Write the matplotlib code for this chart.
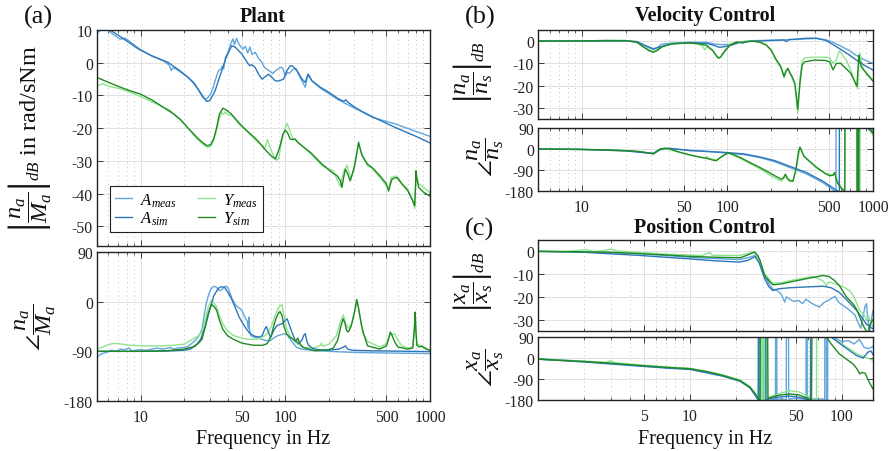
import numpy as np
import matplotlib
matplotlib.use('Agg')
import matplotlib.pyplot as plt
from matplotlib.ticker import LogLocator, NullFormatter, FixedLocator

# ---------------- data (frequency in Hz, value) ----------------
# (a) Plant magnitude in dB
plant_mag_A_meas = [(5.0, 9.0), (5.3, 10.0), (5.8, 10.5), (6.3, 9.0), (6.8, 8.0), (7.2, 7.2), (7.8, 7.5),
    (8.3, 6.7), (9.0, 5.5), (10, 4.0), (12, 2.0), (14.5, 0.5), (15.8, -0.8), (16.3, -2.4), (16.8, -1.5),
    (18, -2.2), (21, -4.3), (23, -6.0), (25, -8.2), (26.6, -10.3), (27.8, -11.1), (29, -10.8), (30.5, -9.5),
    (31.5, -8.0), (33, -5.0), (34.5, -2.5), (35.8, -1.9), (36.8, -1.0), (37.5, -1.9), (38.5, 1.5), (40, 3.0),
    (42, 5.8), (43.5, 7.3), (44.5, 5.5), (46, 7.5), (47.5, 6.0), (49, 5.0), (51, 4.2), (53, 5.0), (55, 3.0),
    (57, 4.8), (59, 2.5), (62, 3.2), (65, 1.5), (68, 0.5), (72, -1.5), (77, -2.4), (82, -3.3), (86, -2.4),
    (90, -1.8), (93, -1.4), (96, -1.6), (100, -4.0), (103, -3.0), (107, -3.2), (112, -2.2), (118, -1.7),
    (125, -4.0), (130, -5.5), (137.5, -7.5), (141, -5.0), (144, -3.5), (152, -5.5), (175, -7.8), (234, -11.4),
    (270, -12.8), (339, -15.0), (400, -16.7), (576, -18.7), (800, -21.0), (1000, -22.5)]
plant_mag_A_sim = [(5.0, 12.5), (6.0, 10.3), (7.0, 8.4), (8.0, 6.7), (9.65, 4.2), (12, 2.1), (15.5, 0.1),
    (18.5, -2.3), (21.4, -4.5), (23.5, -6.3), (25.1, -8.2), (27, -10.3), (28.6, -11.8), (30, -11.6),
    (31.5, -10.0), (32.7, -8.6), (34.5, -5.5), (36.4, -2.4), (39, 1.5), (42.6, 5.2), (45, 4.8), (48, 3.5),
    (50, 2.7), (53, 1.0), (55.5, -0.4), (57, -0.9), (58.5, -0.6), (61.8, -1.4), (66, -3.8), (69.1, -5.0),
    (76.7, -3.5), (85.3, -5.5), (90, -5.6), (95, -5.2), (97.4, -5.0), (102.7, -2.4), (108, -1.0),
    (111.2, -0.9), (115, -1.5), (120.5, -2.4), (130.5, -5.0), (137.5, -6.0), (143.6, -3.5), (153, -5.5),
    (174.7, -7.5), (200, -9.0), (234, -11.1), (255, -11.8), (262, -11.3), (270, -12.0), (300, -13.5),
    (339, -14.9), (400, -16.5), (576, -19.8), (800, -22.5), (1000, -24.5)]
plant_mag_Y_meas = [(5.0, -7.0), (5.5, -6.5), (6.0, -7.2), (7, -7.8), (8, -8.6), (9, -9.5), (10, -10.3),
    (12, -12.0), (13, -12.6), (14.5, -13.7), (16, -14.5), (17, -15.8), (19, -17.6), (21.3, -20.0),
    (24, -22.8), (27, -25.0), (29, -25.9), (30.5, -25.6), (32, -23.8), (33.5, -20.5), (35, -17.0),
    (36.5, -15.3), (37.5, -15.8), (38.5, -15.0), (40, -15.8), (43, -16.2), (48, -18.8), (55, -21.2),
    (62, -23.5), (70, -25.5), (72, -26.3), (75.5, -23.5), (78, -25.5), (82, -28.0), (87, -29.8),
    (90, -29.4), (93, -25.5), (98, -21.0), (103, -18.5), (107, -20.5), (112, -23.0), (120, -24.0),
    (130.5, -25.4), (150, -27.8), (180, -31.5), (200, -32.5), (215, -33.0), (227, -35.5), (240, -37.8),
    (252, -33.5), (267, -31.3), (276, -33.5), (284, -35.5), (300, -31.5), (321, -25.0), (339, -28.0),
    (370, -31.5), (397, -32.2), (450, -35.0), (518, -38.5), (540, -35.0), (580, -34.6), (610, -35.5),
    (641, -37.0), (700, -38.5), (751, -41.5), (784, -44.5), (800, -35.5), (812, -35.0), (835, -37.0),
    (900, -38.0), (1000, -39.7)]
plant_mag_Y_sim = [(5.0, -4.5), (6, -6.0), (7, -7.2), (8, -8.2), (10, -9.6), (12, -11.4), (14, -13.3),
    (17, -15.7), (19, -17.5), (21.3, -20.0), (23, -21.5), (25, -23.2), (27, -24.5), (29, -25.4),
    (30.5, -25.0), (32, -23.3), (33.5, -20.0), (35, -15.8), (37, -13.9), (39, -14.4), (42, -15.5),
    (45, -17.0), (50, -19.3), (55, -21.0), (60, -22.5), (65, -24.0), (72, -26.4), (80, -28.5),
    (85.3, -29.4), (88, -28.0), (92, -25.4), (96, -22.0), (100, -20.6), (104, -21.5), (108, -23.3),
    (112, -23.5), (117, -23.3), (122, -24.3), (130.5, -25.4), (150, -27.5), (179.6, -31.0), (210, -33.5),
    (227.7, -34.5), (240, -36.0), (246.3, -38.1), (252, -35.5), (260, -32.5), (270, -34.0), (281, -36.1),
    (300, -32.0), (321, -24.3), (339, -28.4), (370, -31.0), (397, -32.0), (450, -34.5), (500, -37.0),
    (518, -39.2), (535, -36.8), (546, -35.6), (570, -35.2), (591, -35.1), (641, -37.1), (700, -39.0),
    (751, -41.7), (784, -43.7), (795, -37.0), (800, -33.0), (812, -35.5), (835, -38.1), (900, -39.5),
    (1000, -40.8)]

# (a) Plant phase in deg
plant_ph_A_meas = [(5.0, -101), (5.3, -95), (5.8, -92), (6.3, -88), (6.8, -90), (7.3, -86), (7.8, -87),
    (8.3, -84), (8.8, -90), (9.3, -88), (10, -87), (11, -88), (12, -86), (13, -84), (14, -86), (15, -85),
    (16, -83), (17, -86), (18, -84), (19.5, -83), (21, -82), (22.5, -76), (24, -70), (25.5, -60),
    (26.6, -50), (27.5, -25), (28.5, -2), (29.5, 12), (30.5, 22), (32, 28), (33.5, 26), (35, 20),
    (36.5, 22), (38, 27), (39.4, 28), (41, 20), (42.5, 8), (43.6, 2), (45, -5), (47, -10), (49, -13),
    (51, -20), (53, -30), (54.5, -35), (55.5, -48), (56, -28), (56.5, -50), (58, -62), (62, -65),
    (67, -67), (72, -70), (78, -71), (83, -66), (88, -62), (93, -60), (98, -58), (103, -60), (108, -68),
    (114, -76), (120, -83), (130, -86), (150, -88), (200, -90), (300, -92), (500, -93), (1000, -94)]
plant_ph_A_sim = [(5, -90), (10, -90), (15, -89.5), (20, -88), (22, -86), (24, -80), (26, -68), (28, -45),
    (30, -15), (32, 10), (34.4, 24), (36, 27), (38, 26), (39.4, 20), (42, 8), (45, -10), (48, -28),
    (52.7, -46), (57, -58), (62, -63), (66, -64), (69, -62), (72, -50), (74, -45), (76.5, -55), (79, -65),
    (84, -50), (88, -43), (95, -40), (100, -34), (103, -31), (106, -40), (111, -55), (117, -70),
    (123.8, -76), (130, -70), (135, -60), (137.5, -58), (141, -72), (145, -79), (155, -85), (170, -87),
    (200, -88), (234, -86), (250, -83), (260, -80), (270, -86), (290, -88), (400, -89), (1000, -90.5)]
plant_ph_Y_meas = [(5, -86), (5.5, -82), (6.0, -78), (6.4, -76), (7, -76), (8.5, -79), (10, -80),
    (14, -80), (17, -79), (20, -77), (23, -68), (25, -62), (26.6, -55), (28, -32), (29.5, -8), (31, 2),
    (32.5, -4), (33.6, -10), (35, -25), (37, -40), (40, -53), (43.6, -61), (50, -66), (55, -68), (62, -68),
    (67, -67), (72, -62), (75, -58), (80, -45), (85, -25), (90, -10), (95, -5), (98, -25), (102, -48),
    (107, -60), (113, -68), (120, -76), (133, -83), (150, -84), (165, -82), (175, -79), (178, -75),
    (182, -81), (200, -77), (225, -62), (240, -37), (252, -24), (260, -38), (272, -48), (290, -38),
    (300, -20), (314, 1), (322, -15), (335, -42), (345, -58), (370, -72), (450, -82), (500, -76),
    (515, -66), (530, -62), (545, -60), (570, -58), (600, -70), (640, -80), (700, -84), (760, -82),
    (780, -45), (790, -22), (800, -55), (815, -77), (880, -80), (940, -84), (1000, -88)]
plant_ph_Y_sim = [(5, -90), (10, -90), (15, -89), (20, -86), (23, -82), (25, -76), (26.6, -68), (28, -45),
    (29.5, -19), (31, -5), (32.5, -10), (33.6, -16), (35, -33), (37, -50), (40, -62), (43.6, -68),
    (50, -75), (60, -79), (70, -79), (75, -76), (80, -62), (84, -40), (87, -28), (90, -20), (92, -18),
    (95, -25), (98, -45), (102, -58), (107, -64), (113, -68), (118, -72), (122, -66), (126, -76),
    (133, -83), (160, -89), (200, -87), (215, -84), (230, -70), (242, -45), (251, -31), (258, -38),
    (265, -52), (272, -55), (285, -45), (300, -20), (311.6, 4), (320, -10), (335, -40), (345, -55),
    (370, -80), (450, -86), (500, -80), (515, -70), (531, -55), (545, -60), (570, -73), (600, -82),
    (700, -86), (760, -84), (780, -50), (790, -19), (797, -45), (810, -79), (840, -82), (880, -81),
    (940, -86), (1000, -88)]

# (b) Velocity control magnitude in dB
vel_mag_A_meas = [(5, 0), (20, 0.2), (24, -0.2), (27.3, -2.2), (31, -3.8), (33, -3.0), (35, -1.5),
    (42, -0.8), (55, -0.5), (72, -0.6), (80, -1.2), (88, -1.5), (95, -1.6), (104, -1.4), (120, -0.5),
    (150, 0.2), (200, 0.4), (250, 0.6), (300, 0.8), (347, 1.0), (408, 1.2), (475, 0.6), (530, -0.5),
    (590, -2.0), (680, -4.0), (772, -6.5), (880, -8.5), (1000, -10.0)]
vel_mag_A_sim = [(5, 0), (20, 0.1), (24, -0.3), (27.3, -2.0), (31, -3.4), (35, -2.5), (42, -1.2),
    (55, -0.8), (72, -1.0), (80, -1.8), (88, -2.8), (95, -2.5), (104, -2.0), (120, -0.7), (150, 0.0),
    (200, 0.3), (245, 0.5), (253, -0.2), (265, 0.7), (300, 0.9), (347, 1.3), (408, 1.3), (475, 0.3),
    (530, -1.5), (590, -3.4), (680, -6.0), (772, -8.6), (880, -11.0), (1000, -13.0)]
vel_mag_Y_meas = [(5, 0), (20, 0.3), (23.8, -0.3), (27.3, -3.0), (31, -4.8), (35.3, -2.5), (42.3, -1.0),
    (55, -0.8), (62, -1.3), (67, -2.0), (70, -4.0), (72, -2.5), (76, -3.5), (80, -4.5), (84, -7.0),
    (87, -7.8), (90, -7.2), (95, -4.5), (104, -1.2), (115, -0.4), (125, -0.2), (148, 0.2), (167, -0.3),
    (185, -1.5), (200, -4.0), (215, -8.5), (233, -12.0), (245, -16.5), (252, -14.0), (260, -12.5),
    (270, -15.0), (278, -16.5), (290, -19.5), (298, -27.0), (304, -32.5), (310, -25.0), (315, -17.0),
    (326, -9.0), (340, -7.5), (398, -7.2), (470, -7.2), (505, -7.5), (531, -10.0), (560, -8.5),
    (575, -6.0), (590, -4.3), (600, -5.0), (620, -6.5), (656, -8.6), (703, -13.0), (760, -19.0),
    (785, -21.5), (798, -10.0), (812, -5.2), (830, -9.0), (860, -12.8), (1000, -17.5)]
vel_mag_Y_sim = [(5, 0.0), (10, 0.1), (15, 0.3), (20, 0.2), (23.8, -0.5), (27.3, -3.2), (29, -4.3),
    (31, -5.0), (33, -4.2), (35.3, -2.7), (38, -1.8), (42.3, -1.2), (50, -0.9), (55, -0.8), (62, -1.1),
    (67, -1.5), (72, -1.9), (79, -4.1), (84, -6.5), (87, -7.6), (90, -7.0), (95, -4.9), (104, -1.9),
    (115, -0.5), (122, -0.5), (127, -0.9), (133, -0.3), (148, 0.0), (167, -0.5), (185, -1.8),
    (200, -4.1), (215, -8.0), (233, -11.5), (245, -15.9), (252, -13.5), (260, -12.2), (270, -14.5),
    (278, -15.9), (290, -18.8), (298, -25.0), (304, -30.6), (310, -24.0), (315, -18.8), (326, -10.7),
    (340, -9.3), (398, -8.5), (470, -8.7), (505, -9.3), (531, -12.9), (560, -10.0), (600, -10.0),
    (703, -14.4), (775, -20.3), (790, -12.0), (800, -6.3), (812, -9.0), (830, -11.5), (900, -14.5),
    (1000, -18.0)]

# (b) Velocity control phase in deg
vel_ph_A_meas = [(5, 0), (10, -1), (20, -7), (25, -12), (28, -16), (31, -20), (34, -5), (37, 0), (40, 2),
    (55, -5), (70, -10), (93, -16), (130, -24), (170, -38), (212, -55), (270, -80), (347, -106),
    (450, -143), (530, -175), (557, -185), (558, 175), (800, 115), (880, 92), (1000, 82)]
vel_ph_A_sim = [(5, 0), (10, -2), (20, -8), (25, -14), (28, -17), (31, -18), (34, -3), (37, 2), (40, 3),
    (55, -7), (70, -10), (93, -14), (130, -21), (170, -35), (212, -50), (270, -75), (347, -100),
    (450, -137), (546, -172), (587, -185), (588, 175), (800, 125), (905, 90), (1000, 75)]
vel_ph_Y_meas = [(5, 0), (10, -2), (20, -8), (25, -12), (28, -16), (31, -20), (34.5, -2), (37, 2),
    (47, -14), (55, -26), (65, -36), (70, -38), (72, -32), (75, -40), (84, -48), (93, -30), (101, -17),
    (122, -40), (167, -85), (212, -125), (234, -137), (250, -118), (268, -140), (282, -140), (295, -95),
    (315, 5), (335, -30), (380, -60), (408, -76), (470, -105), (530, -112), (546, -108), (570, -135),
    (600, -160), (640, -182), (645, 178), (700, 150), (760, 120), (790, 170), (792, -190), (815, -190),
    (817, 170), (870, 110), (930, 88), (1000, 58)]
vel_ph_Y_sim = [(5, 0), (10, -2), (15, -4), (20, -7), (25, -11), (28, -16), (31, -21), (33, -10),
    (34.5, 0), (37, 3), (40, 1), (47, -14), (55, -25), (65, -35), (72, -40), (80, -48), (84, -50),
    (88, -40), (93, -29), (101, -17), (108, -22), (122, -36), (140, -55), (167, -79), (190, -98),
    (212, -115), (234, -129), (242, -125), (250, -108), (258, -125), (268, -135), (282, -137), (295, -90),
    (308, -10), (315, 8), (322, -5), (335, -30), (347, -40), (380, -62), (408, -79), (470, -105),
    (505, -115), (530, -112), (546, -101), (556, -125), (570, -145), (600, -165), (630, -178), (640, -185),
    (641, 175), (700, 140), (760, 120), (775, 178), (776, -182), (785, -190), (786, 175), (792, 178),
    (793, -182), (800, -185), (801, 178), (880, 100), (930, 90), (1000, 68)]

# (c) Position control magnitude in dB
pos_mag_A_meas = [(1, 0), (2, -0.2), (4.7, -1.0), (7, -1.8), (10, -2.6), (15, -3.2), (21, -3.6), (24, -2.8),
    (26.7, -1.8), (28.5, -3.5), (31, -10.6), (33, -14.0), (35, -16.5), (38, -17.5), (40, -19.0),
    (42, -22.3), (43, -20.0), (45, -20.8), (48, -22.0), (52, -21.6), (55, -23.0), (58, -21.0), (62, -22.5),
    (66, -23.5), (71, -24.5), (76, -22.5), (81, -21.6), (86, -20.5), (90, -19.8), (95, -22.3), (100, -23.5),
    (108, -25.0), (115, -26.5), (122, -28.0), (126, -30.5), (133, -33.8), (138, -28.0), (142, -24.0),
    (145, -23.0), (148, -30.0), (152, -36.0), (156, -30.0), (160, -26.0)]
pos_mag_A_sim = [(1, 0), (2, -0.4), (4.7, -1.8), (7, -2.6), (10, -3.3), (15, -4.2), (21, -4.7), (24, -4.0),
    (26.7, -2.3), (28.5, -5.0), (31, -12.0), (33, -15.5), (35, -17.2), (38, -16.5), (45, -16.0),
    (60, -15.6), (75, -15.3), (85, -16.0), (96, -18.0), (110, -22.0), (125, -26.0), (135, -29.0),
    (145, -32.0), (155, -33.5), (160, -34.0)]
pos_mag_Y_meas = [(1, 0), (1.5, 0), (1.9, 0.5), (2.1, 0.8), (2.3, 0), (2.7, 0.3), (3.0, 1.0), (3.3, 0.2),
    (4.7, -0.5), (7, -1.2), (10, -1.6), (12, -1.8), (13.5, -0.5), (14, -1.7), (21, -1.8), (24, -1.0),
    (26, 0.0), (28, -2.5), (31, -10.0), (35, -14.0), (40, -13.7), (50, -12.3), (58, -11.5), (64, -11.0),
    (70, -12.0), (75, -13.0), (79, -15.0), (82, -13.5), (85, -13.7), (96, -15.0), (105, -16.0),
    (113, -17.5), (120, -20.0), (131, -26.0), (140, -28.0), (145, -30.0), (150, -28.5), (155, -32.0),
    (160, -33.0)]
pos_mag_Y_sim = [(1, 0), (2, -0.2), (3, -0.4), (4.7, -1.0), (7, -1.6), (10, -2.2), (15, -2.6), (21.4, -2.8),
    (23.5, -1.8), (25.5, -0.8), (26.7, -0.3), (28, -2.0), (28.9, -4.0), (31, -10.6), (33.6, -13.5),
    (35.3, -14.7), (40, -14.3), (45.4, -13.5), (58.5, -12.0), (70, -11.0), (75, -10.6), (82, -11.0),
    (90, -13.0), (96, -15.0), (107, -20.0), (118, -23.0), (125, -25.5), (131, -29.0), (140, -33.5),
    (148, -36.0), (153, -32.0), (160, -30.0)]

# (c) Position control phase in deg
pos_ph_A_meas = [(1, -3), (2, -14), (4.7, -33), (7, -42), (10, -47), (16.5, -76), (21.4, -98), (24.8, -126),
    (27.2, -162), (28.0, -182), (28.1, 182), (28.6, 182), (28.7, -182), (29.2, -182), (29.3, 182),
    (30.5, 182), (30.6, -180), (33, -172), (35, -176), (36.5, -182), (36.6, 182), (37.2, 182),
    (37.3, -178), (40, -174), (43, -180), (43.1, 182), (44.5, 182), (44.6, -176), (50, -172), (56, -176),
    (58, -182), (58.1, 182), (59, 182), (59.1, -178), (66, -175), (70, -178), (74, -174), (77, -182),
    (77.1, 182), (79, 182), (79.1, -178), (80.5, -178), (80.6, 182), (90, 85), (100, 70), (110, 75),
    (120, 60), (130, 80), (140, 45), (150, 40), (160, 50)]
pos_ph_A_sim = [(1, -5), (2, -17), (4.7, -35), (7, -43), (10, -49), (16.5, -78), (21.4, -100), (24.8, -128),
    (27.0, -162), (28.3, -182), (28.4, 182), (31.5, 182), (31.6, -180), (33, -176), (38, -168),
    (45, -163), (52, -168), (58, -175), (62, -182), (62.2, 182), (80, 120), (85, 90), (100, 55),
    (113, 30), (125, 10), (138, 0), (148, 25), (155, 30), (160, 15)]
pos_ph_Y_meas = [(1, -5), (2, -14), (2.8, -18), (3.0, -12), (3.2, -20), (4.7, -30), (7, -38), (10, -44),
    (16.5, -72), (21.4, -95), (24.8, -122), (27.4, -158), (28.7, -182), (28.8, 182), (29.5, 182),
    (29.6, -182), (30.0, -182), (30.1, 182), (30.8, 182), (30.9, -182), (31.3, -182), (31.4, 182),
    (32.0, 182), (32.1, -175), (34, -165), (40, -150), (45, -140), (52, -145), (58, -160), (66, -180),
    (68, -185), (68.1, 185), (85, 90), (100, 60), (115, 35), (125, 18), (140, 5), (160, -10)]
pos_ph_Y_sim = [(1, -5), (2, -15), (3, -22), (4.7, -32), (7, -40), (10, -46), (13, -58), (16.5, -75),
    (21.4, -97), (24.8, -125), (27.4, -161), (28.9, -182), (29.0, 182), (32.4, 182), (32.6, -172),
    (33.6, -170), (38, -160), (45, -154), (52, -158), (58, -170), (63, -182), (63.6, 182), (75, 130),
    (79, 90), (85, 60), (96, 18), (107, -5), (118, -25), (125, -45), (131, -68), (136, -62), (142, -65),
    (150, -100), (160, -133)]

series_names = ['$A_{meas}$', '$A_{sim}$', '$Y_{meas}$', '$Y_{sim}$']
colors = {'A_meas': '#62a6dc', 'A_sim': '#2c77bb', 'Y_meas': '#8fe48f', 'Y_sim': '#1f8a22'}

# ---------------- figure ----------------
plt.rcParams['font.family'] = ['Liberation Serif', 'DejaVu Serif']
plt.rcParams['mathtext.fontset'] = 'custom'
plt.rcParams['mathtext.rm'] = 'Liberation Serif'
plt.rcParams['mathtext.it'] = 'Liberation Serif:italic'
plt.rcParams['mathtext.bf'] = 'Liberation Serif:bold'
plt.rcParams['mathtext.fallback'] = 'cm'
plt.rcParams['axes.unicode_minus'] = False

W, H = 894, 452
fig = plt.figure(figsize=(W / 100, H / 100), dpi=100)


def ax_px(x0, y0, x1, y1):
    return fig.add_axes([x0 / W, 1 - y1 / H, (x1 - x0) / W, (y1 - y0) / H])


def style(ax, xlim, xticks, ylim, yticks, xlabels):
    ax.set_xscale('log')
    ax.set_xlim(*xlim)
    ax.set_ylim(*ylim)
    ax.xaxis.set_major_locator(FixedLocator(xticks))
    ax.xaxis.set_minor_locator(LogLocator(base=10, subs=np.arange(2, 10), numticks=30))
    ax.xaxis.set_minor_formatter(NullFormatter())
    ax.set_xticklabels([str(t) for t in xticks] if xlabels else [])
    ax.set_yticks(yticks)
    ax.set_yticklabels([str(t) for t in yticks])
    ax.tick_params(which='both', direction='in', top=True, right=True, labelsize=11.3, colors='#222222')
    ax.tick_params(which='major', length=4, width=0.6)
    ax.tick_params(which='minor', length=2.5, width=0.5)
    ax.tick_params(axis='x', pad=6)
    ax.tick_params(axis='y', pad=3)
    ax.grid(which='major', color='#dcdcdc', lw=0.6)
    ax.grid(which='minor', axis='x', color='#c4c4c4', ls=(0, (1, 3.5)), lw=0.7)
    ax.set_axisbelow(True)
    for s in ax.spines.values():
        s.set_linewidth(1.0)
        s.set_color('#222222')


def draw(ax, data):
    handles = []
    for key, pts in zip(['A_meas', 'Y_meas', 'A_sim', 'Y_sim'], data):
        f = [p[0] for p in pts]
        v = [p[1] for p in pts]
        h, = ax.plot(f, v, color=colors[key], lw=1.0)
        handles.append(h)
    return handles


# (a) Plant
axA1 = ax_px(97, 31, 430, 247)
hA = draw(axA1, [plant_mag_A_meas, plant_mag_Y_meas, plant_mag_A_sim, plant_mag_Y_sim])
style(axA1, (5, 1000), [10, 50, 100, 500, 1000], (-56, 10), [10, 0, -10, -20, -30, -40, -50], False)
axA2 = ax_px(97, 253, 430, 402)
draw(axA2, [plant_ph_A_meas, plant_ph_Y_meas, plant_ph_A_sim, plant_ph_Y_sim])
style(axA2, (5, 1000), [10, 50, 100, 500, 1000], (-180, 90), [90, 0, -90, -180], True)

leg = axA1.legend([hA[0], hA[2], hA[1], hA[3]], series_names, ncol=2, loc='lower left',
                  bbox_to_anchor=(0.039, 0.065), borderaxespad=0, fontsize=12, handlelength=1.0,
                  handletextpad=0.5, columnspacing=1.3, borderpad=0.3, labelspacing=0.05,
                  fancybox=False, framealpha=1, edgecolor='#222222')
leg.get_frame().set_linewidth(0.8)

# (b) Velocity control
axB1 = ax_px(538, 31, 873, 120)
draw(axB1, [vel_mag_A_meas, vel_mag_Y_meas, vel_mag_A_sim, vel_mag_Y_sim])
style(axB1, (5, 1000), [10, 50, 100, 500, 1000], (-35, 5), [0, -10, -20, -30], False)
axB2 = ax_px(538, 129, 873, 192)
draw(axB2, [vel_ph_A_meas, vel_ph_Y_meas, vel_ph_A_sim, vel_ph_Y_sim])
style(axB2, (5, 1000), [10, 50, 100, 500, 1000], (-180, 90), [90, 0, -90, -180], True)

# (c) Position control
axC1 = ax_px(538, 241, 873, 332)
draw(axC1, [pos_mag_A_meas, pos_mag_Y_meas, pos_mag_A_sim, pos_mag_Y_sim])
style(axC1, (1, 160), [5, 10, 50, 100], (-35, 5), [0, -10, -20, -30], False)
axC2 = ax_px(538, 338, 873, 401)
draw(axC2, [pos_ph_A_meas, pos_ph_Y_meas, pos_ph_A_sim, pos_ph_Y_sim])
style(axC2, (1, 160), [5, 10, 50, 100], (-180, 90), [90, 0, -90, -180], True)


def ftext(x, y, s, **kw):
    fig.text(x / W, 1 - y / H, s, ha='center', va='center', color='#111111', **kw)


ftext(38, 17, '(a)', fontsize=19)
ftext(480, 17, '(b)', fontsize=19)
ftext(480, 229, '(c)', fontsize=19)
ftext(263, 17, 'Plant', fontsize=14.5, fontweight='bold')
ftext(705, 16, 'Velocity Control', fontsize=14.5, fontweight='bold')
ftext(705, 228, 'Position Control', fontsize=14.5, fontweight='bold')
ftext(263, 440, 'Frequency in Hz', fontsize=14.5)
ftext(705, 440, 'Frequency in Hz', fontsize=14.5)

ftext(30, 139, r'$\left|\dfrac{n_a}{M_a}\right|_{dB}$ in rad/sNm', fontsize=17.5, rotation=90)
ftext(36, 327, r'$\angle\dfrac{n_a}{M_a}$', fontsize=17.5, rotation=90)
ftext(472, 72, r'$\left|\dfrac{n_a}{n_s}\right|_{dB}$', fontsize=17.5, rotation=90)
ftext(486, 157, r'$\angle\dfrac{n_a}{n_s}$', fontsize=17.5, rotation=90)
ftext(472, 282, r'$\left|\dfrac{x_a}{x_s}\right|_{dB}$', fontsize=17.5, rotation=90)
ftext(486, 368, r'$\angle\dfrac{x_a}{x_s}$', fontsize=17.5, rotation=90)

fig.savefig('out.png', dpi=100)
